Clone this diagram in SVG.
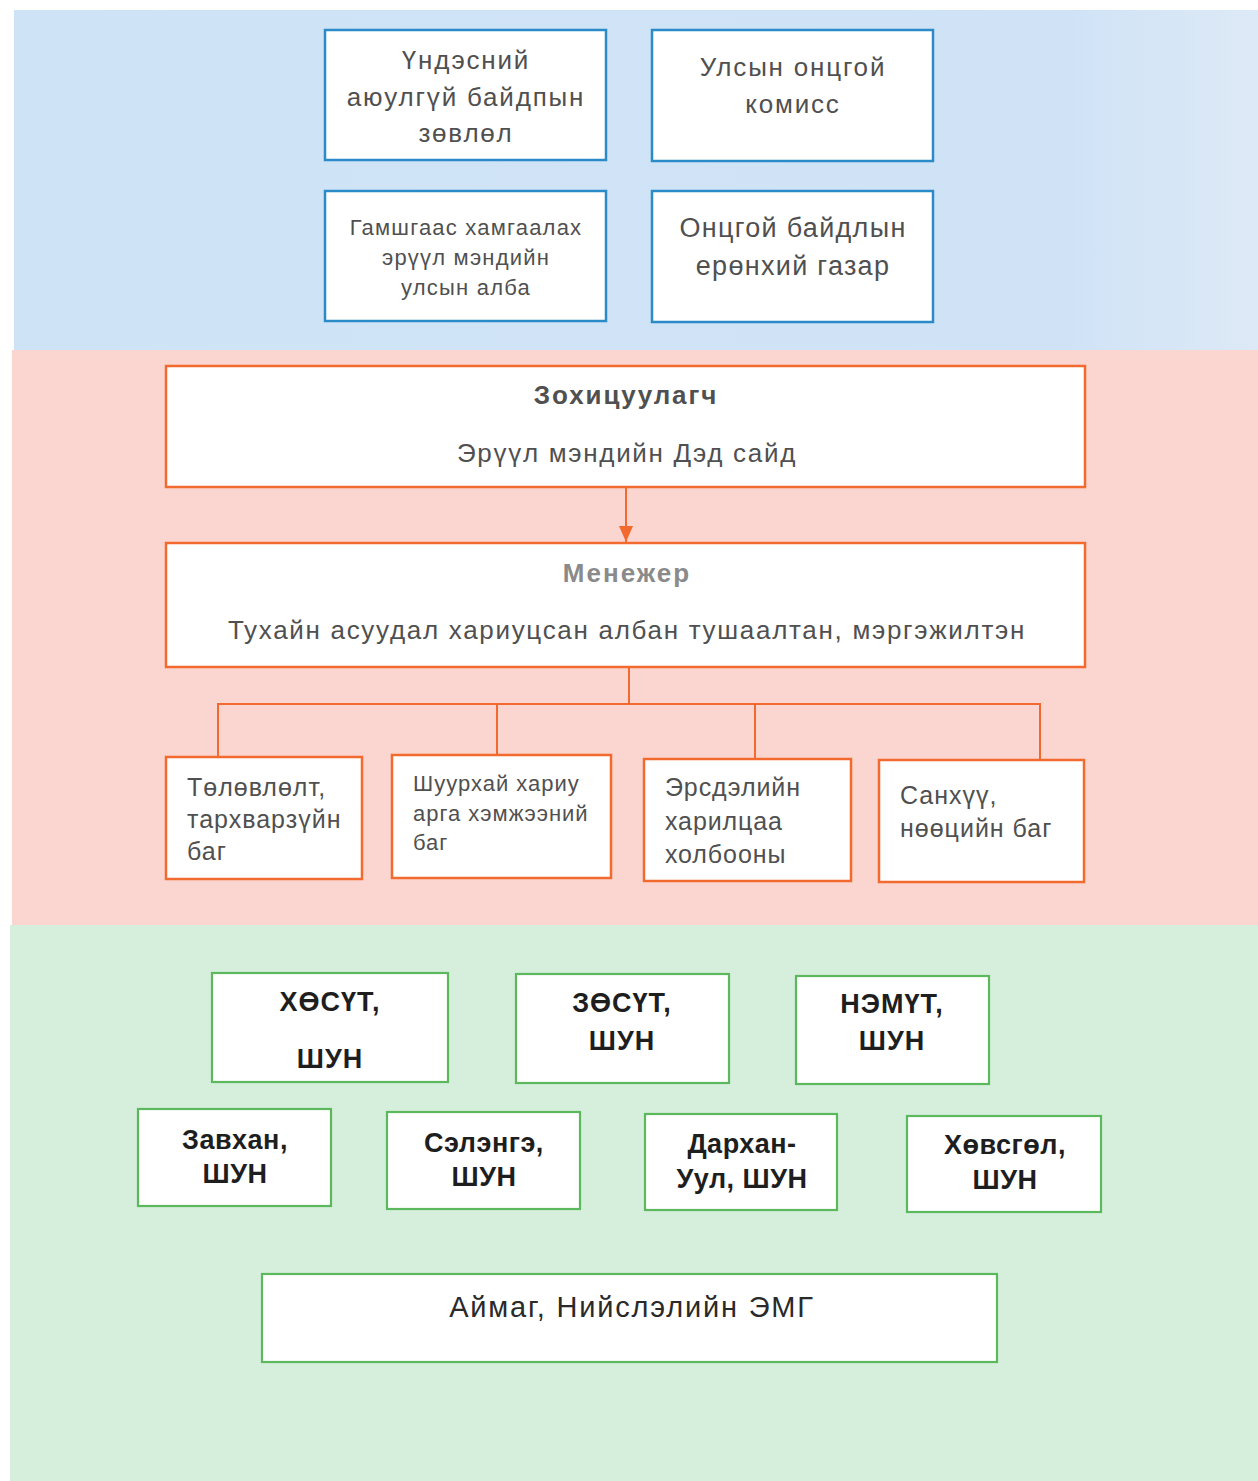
<svg xmlns="http://www.w3.org/2000/svg" width="1258" height="1481" viewBox="0 0 1258 1481">
<style>
.bb{fill:#fff;stroke:#2b8bc8;stroke-width:2.5}
.ob{fill:#fff;stroke:#f26a2e;stroke-width:2.5}
.gb{fill:#fff;stroke:#5cb85c;stroke-width:2.2}
.t{font-family:"Liberation Sans",Arial,sans-serif;fill:#505050}
.c{text-anchor:middle}
.b{font-weight:bold}
.gt{font-family:"Liberation Sans",Arial,sans-serif;fill:#1e1e1e;font-weight:bold;text-anchor:middle;font-size:27px}
.r1{letter-spacing:1px}
.r2{letter-spacing:0.5px}
.ln{fill:none;stroke:#f26a2e;stroke-width:2}
</style>
<defs>
<marker id="ah" viewBox="0 0 16 14" refX="16" refY="7" markerWidth="16" markerHeight="14" orient="auto" markerUnits="userSpaceOnUse">
<path d="M0,0 L16,7 L0,14 z" fill="#f26a2e"/>
</marker>
<linearGradient id="gblue" x1="0" y1="0" x2="1" y2="0">
<stop offset="0" stop-color="#cfe3f7"/><stop offset="0.85" stop-color="#d0e3f6"/><stop offset="1" stop-color="#dde9f6"/>
</linearGradient>
</defs>
<rect x="0" y="0" width="1258" height="1481" fill="#ffffff"/>
<rect x="14" y="10" width="1244" height="341" fill="url(#gblue)"/>
<rect x="12" y="350" width="1246" height="576" fill="#fbd6d0"/>
<rect x="10" y="925" width="1248" height="556" fill="#d5efdc"/>

<g id="connectors">
<line class="ln" x1="626" y1="487" x2="626" y2="542" marker-end="url(#ah)"/>
<polyline class="ln" points="629,667 629,704"/>
<polyline class="ln" points="218,757 218,704 1040,704 1040,760"/>
<line class="ln" x1="497" y1="704" x2="497" y2="755"/>
<line class="ln" x1="755" y1="704" x2="755" y2="759"/>
</g>

<g id="n-nsc" font-size="26" letter-spacing="1.8">
<rect class="bb" x="325" y="30" width="281" height="130"/>
<text class="t c" x="466" y="69">Үндэсний</text>
<text class="t c" x="466" y="106">аюулгүй байдпын</text>
<text class="t c" x="466" y="142">зөвлөл</text>
</g>
<g id="n-commission" font-size="26" letter-spacing="1.8">
<rect class="bb" x="652" y="30" width="281" height="131"/>
<text class="t c" x="793" y="76">Улсын онцгой</text>
<text class="t c" x="793" y="113">комисс</text>
</g>
<g id="n-disaster" font-size="22" letter-spacing="1.2">
<rect class="bb" x="325" y="191" width="281" height="130"/>
<text class="t c" x="466" y="235">Гамшгаас хамгаалах</text>
<text class="t c" x="466" y="265">эрүүл мэндийн</text>
<text class="t c" x="466" y="295">улсын алба</text>
</g>
<g id="n-emergency" font-size="27" letter-spacing="1.3">
<rect class="bb" x="652" y="191" width="281" height="131"/>
<text class="t c" x="793" y="237">Онцгой байдлын</text>
<text class="t c" x="793" y="275">ерөнхий газар</text>
</g>

<g id="n-coordinator" font-size="26">
<rect class="ob" x="166" y="366" width="919" height="121"/>
<text class="t c b" x="626" y="404" letter-spacing="1.9">Зохицуулагч</text>
<text class="t c" x="627" y="462" letter-spacing="1.7">Эрүүл мэндийн Дэд сайд</text>
</g>
<g id="n-manager" font-size="26">
<rect class="ob" x="166" y="543" width="919" height="124"/>
<text class="t c b" x="627" y="582" letter-spacing="2" style="fill:#8a8a8a">Менежер</text>
<text class="t c" x="627" y="639" letter-spacing="1.7">Тухайн асуудал хариуцсан албан тушаалтан, мэргэжилтэн</text>
</g>

<g id="n-planning" font-size="25" letter-spacing="1">
<rect class="ob" x="166" y="757" width="196" height="122"/>
<text class="t" x="187" y="796">Төлөвлөлт,</text>
<text class="t" x="187" y="828">тархварзүйн</text>
<text class="t" x="187" y="860">баг</text>
</g>
<g id="n-response" font-size="22" letter-spacing="1">
<rect class="ob" x="392" y="755" width="219" height="123"/>
<text class="t" x="413" y="791">Шуурхай хариу</text>
<text class="t" x="413" y="821">арга хэмжээний</text>
<text class="t" x="413" y="850">баг</text>
</g>
<g id="n-risk" font-size="25" letter-spacing="0.9">
<rect class="ob" x="644" y="759" width="207" height="122"/>
<text class="t" x="665" y="796">Эрсдэлийн</text>
<text class="t" x="665" y="830">харилцаа</text>
<text class="t" x="665" y="863">холбооны</text>
</g>
<g id="n-finance" font-size="25" letter-spacing="1">
<rect class="ob" x="879" y="760" width="205" height="122"/>
<text class="t" x="900" y="804">Санхүү,</text>
<text class="t" x="900" y="837">нөөцийн баг</text>
</g>

<g id="n-hosut">
<rect class="gb" x="212" y="973" width="236" height="109"/>
<text class="gt r1" x="330" y="1011">ХӨСҮТ,</text>
<text class="gt r1" x="330" y="1068">ШУН</text>
</g>
<g id="n-zosut">
<rect class="gb" x="516" y="974" width="213" height="109"/>
<text class="gt r1" x="622" y="1012">ЗӨСҮТ,</text>
<text class="gt r1" x="622" y="1050">ШУН</text>
</g>
<g id="n-nemut">
<rect class="gb" x="796" y="976" width="193" height="108"/>
<text class="gt r1" x="892" y="1013">НЭМҮТ,</text>
<text class="gt r1" x="892" y="1050">ШУН</text>
</g>
<g id="n-zavkhan">
<rect class="gb" x="138" y="1109" width="193" height="97"/>
<text class="gt r2" x="235" y="1149">Завхан,</text>
<text class="gt r2" x="235" y="1183">ШУН</text>
</g>
<g id="n-selenge">
<rect class="gb" x="387" y="1112" width="193" height="97"/>
<text class="gt r2" x="484" y="1152">Сэлэнгэ,</text>
<text class="gt r2" x="484" y="1186">ШУН</text>
</g>
<g id="n-darkhan">
<rect class="gb" x="645" y="1114" width="192" height="96"/>
<text class="gt r2" x="742" y="1153">Дархан-</text>
<text class="gt r2" x="742" y="1188">Уул, ШУН</text>
</g>
<g id="n-khovsgol">
<rect class="gb" x="907" y="1116" width="194" height="96"/>
<text class="gt r2" x="1005" y="1154">Хөвсгөл,</text>
<text class="gt r2" x="1005" y="1189">ШУН</text>
</g>
<g id="n-aimag">
<rect class="gb" x="262" y="1274" width="735" height="88"/>
<text class="t c" font-size="29" letter-spacing="1.8" x="632" y="1317" style="fill:#2a2a2a">Аймаг, Нийслэлийн ЭМГ</text>
</g>
</svg>
